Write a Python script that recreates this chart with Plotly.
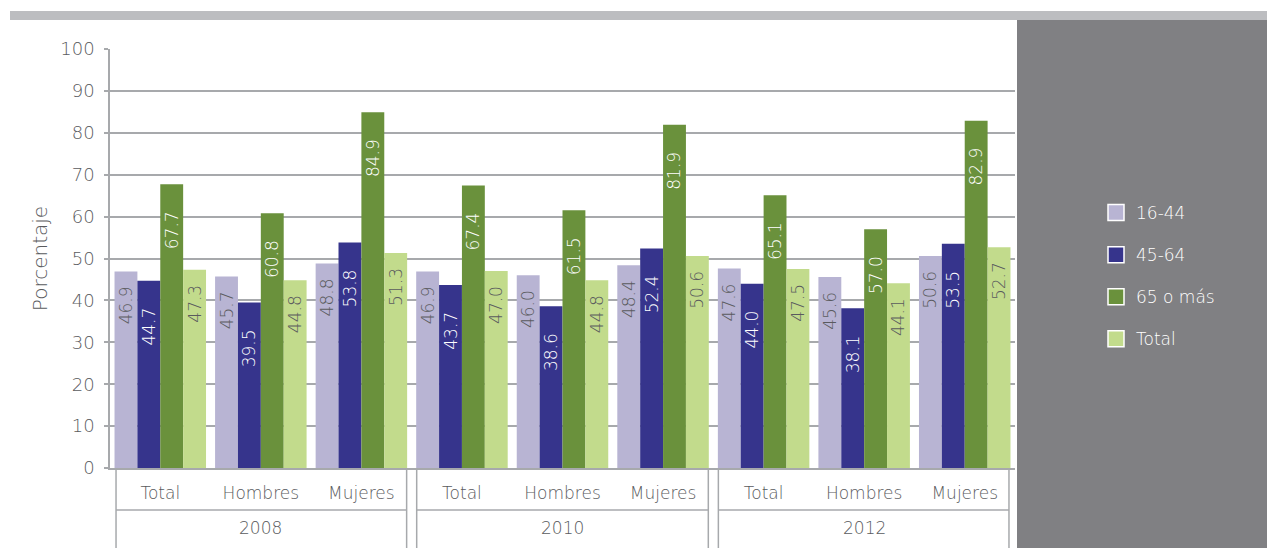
import plotly.graph_objects as go

# ---- data ----
years = ["2008", "2010", "2012"]
sexes = ["Total", "Hombres", "Mujeres"]
series_names = ["16-44", "45-64", "65 o más", "Total"]
v_16_44 = [46.9, 45.7, 48.8, 46.9, 46.0, 48.4, 47.6, 45.6, 50.6]
v_45_64 = [44.7, 39.5, 53.8, 43.7, 38.6, 52.4, 44.0, 38.1, 53.5]
v_65_mas = [67.7, 60.8, 84.9, 67.4, 61.5, 81.9, 65.1, 57.0, 82.9]
v_total = [47.3, 44.8, 51.3, 47.0, 44.8, 50.6, 47.5, 44.1, 52.7]
y_ticks = [0, 10, 20, 30, 40, 50, 60, 70, 80, 90, 100]

# ---- style ----
colors = ["#b8b4d3", "#36348c", "#6a913c", "#c2db8c"]
text_colors = ["#5a5b5e", "#ffffff", "#ffffff", "#5a5b5e"]
text_pad = ["\u2800", "\u2800\u2800", "\u2800\u2800", "\u2800"]
GRID = "#a7a9ac"
TXT = "#5a5b5e"
FONT = "DejaVu Sans"
WT = 300

cat_labels = [s for _ in years for s in sexes]
xpos = list(range(len(cat_labels)))
all_series = [v_16_44, v_45_64, v_65_mas, v_total]

fig = go.Figure()
for name, vals, col, tcol, pad in zip(series_names, all_series, colors, text_colors, text_pad):
    fig.add_trace(go.Bar(
        x=xpos, y=vals, name=name, legendgroup=name, showlegend=False,
        marker=dict(color=col, line=dict(width=0)),
        text=[f"{v:.1f}{pad}" for v in vals],
        textposition="inside", insidetextanchor="end", textangle=-90,
        constraintext="none",
        textfont=dict(family=FONT, size=17, color=tcol, weight=WT),
        hoverinfo="skip",
    ))
# legend entries (square swatches with white border)
for name, col in zip(series_names, colors):
    fig.add_trace(go.Scatter(
        x=[None], y=[None], mode="markers", name=name, legendgroup=name,
        marker=dict(symbol="square", size=16, color=col,
                    line=dict(color="white", width=1.5)),
    ))

# ---- geometry (page has an 8px body margin) ----
OFF = 8
W, H = 1275 - OFF, 548 - OFF
L, T = 110 - OFF, 49 - OFF
R = W - (1015 - OFF)
B = H - (468 - OFF)
pw, ph = W - L - R, H - T - B

def px_x(p):  # p in reference-image pixels
    return (p - OFF - L) / pw

def px_y(p):
    return (H - B - (p - OFF)) / ph

shapes = []
# top gray band
shapes.append(dict(type="rect", xref="paper", yref="paper",
                   x0=px_x(10), x1=px_x(1280), y0=px_y(20), y1=px_y(11),
                   fillcolor="#bcbdc0", line=dict(width=0), layer="above"))
# right gray panel
shapes.append(dict(type="rect", xref="paper", yref="paper",
                   x0=px_x(1017), x1=px_x(1280), y0=px_y(560), y1=px_y(20),
                   fillcolor="#808083", line=dict(width=0), layer="above"))
# category label boxes
box_edges = [(-0.44, 2.45), (2.55, 5.45), (5.55, 8.44)]
ymid = px_y(510)
ybot = px_y(560)
for x0, x1 in box_edges:
    for xx in (x0, x1):
        shapes.append(dict(type="line", xref="x", yref="paper", x0=xx, x1=xx,
                           y0=0, y1=ybot, line=dict(color=GRID, width=1.5)))
    shapes.append(dict(type="line", xref="x", yref="paper", x0=x0, x1=x1,
                       y0=ymid, y1=ymid, line=dict(color=GRID, width=1.5)))

annotations = []
for i, yr in enumerate(years):
    annotations.append(dict(x=i * 3 + 1, y=px_y(528), xref="x", yref="paper",
                            text=yr, showarrow=False, xanchor="center",
                            yanchor="middle",
                            font=dict(family=FONT, size=17, color=TXT, weight=WT)))

fig.update_layout(
    width=W, height=H,
    margin=dict(l=L, r=R, t=T, b=B, autoexpand=False),
    paper_bgcolor="white", plot_bgcolor="white",
    barmode="group", bargap=0.09, bargroupgap=0,
    font=dict(family=FONT, color=TXT, weight=WT),
    shapes=shapes, annotations=annotations,
    legend=dict(x=px_x(1096), y=px_y(195), xanchor="left", yanchor="top",
                bgcolor="rgba(0,0,0,0)",
                font=dict(family=FONT, size=17, color="#ffffff", weight=WT),
                traceorder="grouped", tracegroupgap=17, itemwidth=30),
    xaxis=dict(range=[-0.5, 8.5], tickmode="array", tickvals=xpos, ticktext=cat_labels,
               showgrid=False, zeroline=False, showline=True, linecolor=GRID, linewidth=1.5,
               ticks="", tickfont=dict(family=FONT, size=17, color=TXT, weight=WT),
               ticklabelstandoff=9, fixedrange=True),
    yaxis=dict(range=[0, 100], tickmode="array", tickvals=y_ticks,
               showgrid=True, gridcolor=GRID, gridwidth=1.5, zeroline=False,
               showline=True, linecolor=GRID, linewidth=1.5,
               ticks="outside", ticklen=4, tickcolor=GRID, tickwidth=1.5,
               tickfont=dict(family=FONT, size=18, color=TXT, weight=WT), ticklabelstandoff=6,
               title=dict(text="Porcentaje",
                          font=dict(family=FONT, size=20, color=TXT, weight=WT),
                          standoff=7),
               fixedrange=True),
)

fig.write_html("out.html")
